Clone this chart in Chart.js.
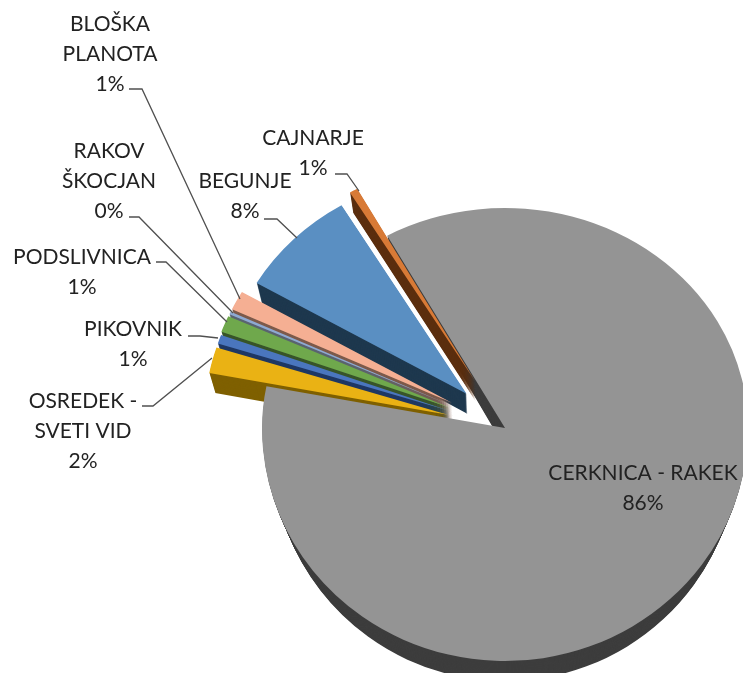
<!DOCTYPE html>
<html>
<head>
<meta charset="utf-8">
<style>html,body{margin:0;padding:0;background:#fff;overflow:hidden}canvas{display:block}</style>
<script src="https://cdn.jsdelivr.net/npm/chart.js@4"></script>
</head>
<body>
<canvas id="c" width="743" height="673"></canvas>
<script>
const categories = ['CERKNICA - RAKEK','OSREDEK - SVETI VID','PIKOVNIK','PODSLIVNICA','RAKOV ŠKOCJAN','BLOŠKA PLANOTA','BEGUNJE','CAJNARJE'];
const shares = [86.1, 1.9, 0.65, 1.2, 0.2, 1.4, 8, 0.55];
const faceColors = ['#949494','#EAB214','#4A76BE','#6FA84C','#8EA9D2','#F5AF93','#5A8FC2','#D87A36'];
const wallColors = ['#3D3D3D','#7F6000','#1F3864','#38552A','#5A6470','#7D5A4B','#1E384E','#5B2E0E'];
const explode = [0, 59, 59, 60, 60, 60, 54, 60];
const taper = [0.002, 0.001, 0.001, 0.001, 0.001, 0.001, 0.001, 0.001];

const labelLines = [
  ['CERKNICA - RAKEK','86%'],
  ['OSREDEK -','SVETI VID','2%'],
  ['PIKOVNIK','1%'],
  ['PODSLIVNICA','1%'],
  ['RAKOV','ŠKOCJAN','0%'],
  ['BLOŠKA','PLANOTA','1%'],
  ['BEGUNJE','8%'],
  ['CAJNARJE','1%']
];
const labelCenterX = [643, 83, 133, 82, 109, 110, 245, 313];
const labelFirstY = [473, 401, 329, 257, 151, 24, 181, 138];
const leaders = [
  null,
  [[142,406],[153,406],[212,358]],
  [[188,336],[200,336],[218,338]],
  [[156,262],[166,262],[227,322]],
  [[129,217],[139,217],[233,313]],
  [[129,89],[142,89],[240,299]],
  [[264,219],[277,219],[297,238]],
  [[335,174],[347,174],[359,191]]
];

const CX = 505, CY = 428, DEPTH = 20;
const SCALE_UP = 0.905, SCALE_DOWN = 0.959;

function paintArc(ctx, arc, i, color, k) {
  const saved = arc.options;
  arc.options = Object.assign({}, saved, {backgroundColor: color, borderWidth: 0, offset: 0});
  const mid = (arc.startAngle + arc.endAngle) / 2;
  [[-2000, CY + k + 2000, SCALE_UP], [CY + k, 2000, SCALE_DOWN]].forEach(([top, h, sy]) => {
    ctx.save();
    ctx.beginPath();
    ctx.rect(0, top, 743, h);
    ctx.clip();
    ctx.translate(CX, CY + k);
    ctx.scale(1 - k * taper[i], sy);
    ctx.translate(-CX, -CY);
    ctx.translate(Math.cos(mid) * explode[i], Math.sin(mid) * explode[i]);
    arc.draw(ctx);
    ctx.restore();
  });
  arc.options = saved;
}

const pie3d = {
  id: 'pie3d',
  beforeDatasetDraw(chart, args) {
    const ctx = chart.ctx, arcs = args.meta.data;
    const wall = i => { for (let k = DEPTH; k >= 1; k--) paintArc(ctx, arcs[i], i, wallColors[i], k); };
    wall(0);
    for (let i = arcs.length - 1; i >= 1; i--) wall(i);
    paintArc(ctx, arcs[0], 0, faceColors[0], 0);
    for (let i = arcs.length - 1; i >= 1; i--) paintArc(ctx, arcs[i], i, faceColors[i], 0);
    return false;
  },
  afterDatasetsDraw(chart) {
    const ctx = chart.ctx;
    ctx.save();
    ctx.strokeStyle = '#505050';
    ctx.lineWidth = 1.3;
    leaders.forEach(pts => {
      if (!pts) return;
      ctx.beginPath();
      pts.forEach((p, j) => j ? ctx.lineTo(p[0], p[1]) : ctx.moveTo(p[0], p[1]));
      ctx.stroke();
    });
    ctx.fillStyle = '#222222';
    ctx.font = '21px Lato';
    ctx.textAlign = 'center';
    ctx.textBaseline = 'middle';
    labelLines.forEach((lines, i) => {
      lines.forEach((t, j) => ctx.fillText(t, labelCenterX[i], labelFirstY[i] + j * 30));
    });
    ctx.restore();
  }
};

new Chart(document.getElementById('c'), {
  type: 'pie',
  data: {
    labels: categories,
    datasets: [{
      data: shares,
      backgroundColor: faceColors,
      borderWidth: 0,
      radius: 243,
      clip: false
    }]
  },
  options: {
    responsive: false,
    animation: false,
    rotation: -29,
    layout: {padding: {left: 267, top: 183, right: 0, bottom: 0}},
    plugins: {legend: {display: false}, tooltip: {enabled: false}}
  },
  plugins: [pie3d]
});
</script>
</body>
</html>
